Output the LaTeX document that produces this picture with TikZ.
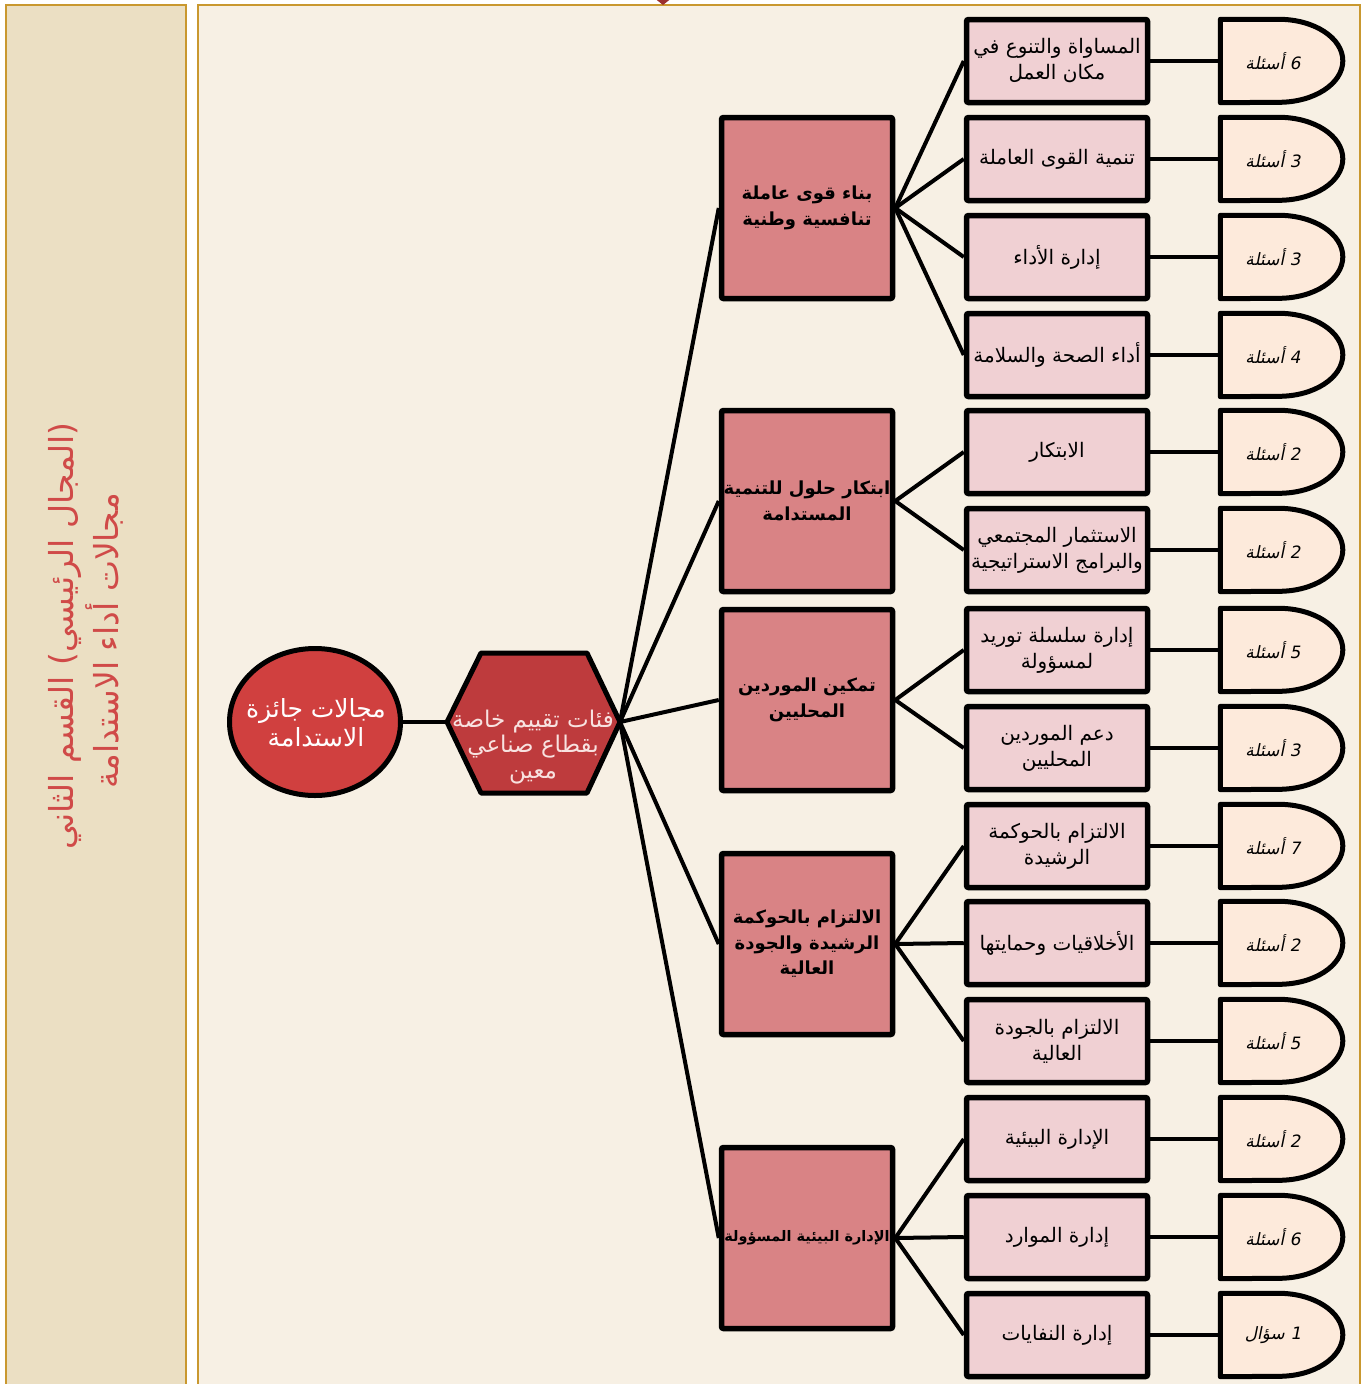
\documentclass[tikz,border=0pt]{standalone}
\usepackage{fontspec}
\usetikzlibrary{shapes.geometric}
\TeXXeTstate=1
\newfontfamily\ar[Script=Arabic]{DejaVu Sans}
\newfontfamily\arsl[Script=Arabic,FakeSlant=0.2]{DejaVu Sans}
\newcommand\rtl[1]{\beginR #1\endR}
\definecolor{leftfill}{HTML}{EBDFC3}
\definecolor{mainfill}{HTML}{F7F0E4}
\definecolor{goldline}{HTML}{C9982F}
\definecolor{diamondred}{HTML}{9B3030}
\definecolor{circfill}{HTML}{D0403F}
\definecolor{hexfill}{HTML}{BE3B3D}
\definecolor{catfill}{HTML}{D98385}
\definecolor{subfill}{HTML}{F0D0D3}
\definecolor{dfill}{HTML}{FDEADB}
\definecolor{redtext}{HTML}{D04A48}
\definecolor{hextext}{HTML}{F8E2E0}
\tikzset{
  panel/.style={draw=goldline, line width=2pt},
  lefttext/.style={text=redtext, font=\ar\fontsize{33}{38}\selectfont, inner sep=0},
  conn/.style={draw=black, line width=4pt},
  cat/.style={draw=black, line width=5.5pt, fill=catfill, rounded corners=2pt,
    minimum width=171pt, minimum height=181pt, inner sep=1pt, align=center,
    font=\ar\bfseries\fontsize{18}{25.5}\selectfont},
  subbox/.style={draw=black, line width=5.5pt, fill=subfill, rounded corners=2pt,
    minimum width=181pt, minimum height=83pt, inner sep=0pt, align=center,
    font=\ar\fontsize{20}{26}\selectfont},
  dnode/.style={minimum width=105pt, minimum height=83pt, inner sep=0,
    font=\arsl\fontsize{17}{20}\selectfont},
  dshape/.style={draw=black, line width=5pt, fill=dfill, line join=round},
}
\newcommand\dsh[1]{\draw[dshape] (#1.north west) -- ([xshift=58.5pt]#1.north west)
  arc[start angle=90, end angle=-90, x radius=64pt, y radius=41.5pt] -- (#1.south west) -- cycle;}
\begin{document}
\begin{tikzpicture}[x=1pt,y=-1pt]
\useasboundingbox (0,0) rectangle (1366,1384);
\clip (0,0) rectangle (1366,1384);
% panels
\draw[panel, fill=leftfill] (6,5) rectangle (186,1400);
\draw[panel, fill=mainfill] (198,5) rectangle (1360,1400);
\fill[diamondred] (653,-3) -- (663,-12) -- (673,-3) -- (663,5) -- cycle;
% left vertical text
\node[lefttext, rotate=90] (t1) at (65,636) {\rtl{(المجال الرئيسي) القسم الثاني}};
\node[lefttext, rotate=90] (t2) at (104,641) {\rtl{مجالات أداء الاستدامة}};
% ellipse
\node[ellipse, draw=black, line width=5pt, fill=circfill, minimum width=171pt,
  minimum height=147pt, inner sep=0] (circ) at (315,722) {};
\node[text=white, align=center, font=\ar\fontsize{25}{29}\selectfont] (circt) at (316,723)
  {\rtl{مجالات جائزة}\\\rtl{الاستدامة}};
% hexagon
\draw[line width=5pt, fill=hexfill, line join=round]
  (481,653) -- (587,653) -- (620,722) -- (587,793) -- (481,793) -- (447,722) -- cycle;
\coordinate (hexL) at (447,722);
\coordinate (hexR) at (620,722);
\node[text=hextext, align=center, font=\ar\fontsize{23}{25.5}\selectfont] (hext) at (533,747)
  {\rtl{فئات تقييم خاصة}\\\rtl{بقطاع صناعي}\\\rtl{معين}};
\draw[conn] (circ.east) -- (hexL);
% categories
\node[cat] (c1) at (807,208) {\rtl{بناء قوى عاملة}\\\rtl{تنافسية وطنية}};
\node[cat] (c2) at (807,501) {\rtl{ابتكار حلول للتنمية}\\\rtl{المستدامة}};
\node[cat] (c3) at (807,700) {\rtl{تمكين الموردين}\\\rtl{المحليين}};
\node[cat] (c4) at (807,944) {\rtl{الالتزام بالحوكمة}\\\rtl{الرشيدة والجودة}\\\rtl{العالية}};
\node[cat, font=\ar\bfseries\fontsize{14.5}{20}\selectfont] (c5) at (807,1238) {\rtl{الإدارة البيئية المسؤولة}};
\foreach \c in {c1,c2,c3,c4,c5} \draw[conn] (hexR) -- (\c.west);
% sub boxes
\node[subbox] (s1) at (1057,61) {\rtl{المساواة والتنوع في}\\\rtl{مكان العمل}};
\node[subbox] (s2) at (1057,159) {\rtl{تنمية القوى العاملة}};
\node[subbox] (s3) at (1057,257) {\rtl{إدارة الأداء}};
\node[subbox] (s4) at (1057,355) {\rtl{أداء الصحة والسلامة}};
\node[subbox] (s5) at (1057,452) {\rtl{الابتكار}};
\node[subbox] (s6) at (1057,550) {\rtl{الاستثمار المجتمعي}\\\rtl{والبرامج الاستراتيجية}};
\node[subbox] (s7) at (1057,650) {\rtl{إدارة سلسلة توريد}\\\rtl{لمسؤولة}};
\node[subbox] (s8) at (1057,748) {\rtl{دعم الموردين}\\\rtl{المحليين}};
\node[subbox] (s9) at (1057,846) {\rtl{الالتزام بالحوكمة}\\\rtl{الرشيدة}};
\node[subbox] (s10) at (1057,943) {\rtl{الأخلاقيات وحمايتها}};
\node[subbox] (s11) at (1057,1041) {\rtl{الالتزام بالجودة}\\\rtl{العالية}};
\node[subbox] (s12) at (1057,1139) {\rtl{الإدارة البيئية}};
\node[subbox] (s13) at (1057,1237) {\rtl{إدارة الموارد}};
\node[subbox] (s14) at (1057,1335) {\rtl{إدارة النفايات}};
\foreach \s in {s1,s2,s3,s4} \draw[conn] (c1.east) -- (\s.west);
\foreach \s in {s5,s6} \draw[conn] (c2.east) -- (\s.west);
\foreach \s in {s7,s8} \draw[conn] (c3.east) -- (\s.west);
\foreach \s in {s9,s10,s11} \draw[conn] (c4.east) -- (\s.west);
\foreach \s in {s12,s13,s14} \draw[conn] (c5.east) -- (\s.west);
% D shapes
\foreach \n/\y/\t in {1/61/6 أسئلة, 2/159/3 أسئلة, 3/257/3 أسئلة, 4/355/4 أسئلة,
  5/452/2 أسئلة, 6/550/2 أسئلة, 7/650/5 أسئلة, 8/748/3 أسئلة, 9/846/7 أسئلة,
  10/943/2 أسئلة, 11/1041/5 أسئلة, 12/1139/2 أسئلة, 13/1237/6 أسئلة, 14/1335/1 سؤال}{
  \node[dnode] (q\n) at (1273,\y) {};
  \dsh{q\n}
  \node[dnode] (qt\n) at (q\n) {\rtl{\t}};
  \draw[conn] (s\n.east) -- (q\n.west);
}
\end{tikzpicture}
\end{document}
